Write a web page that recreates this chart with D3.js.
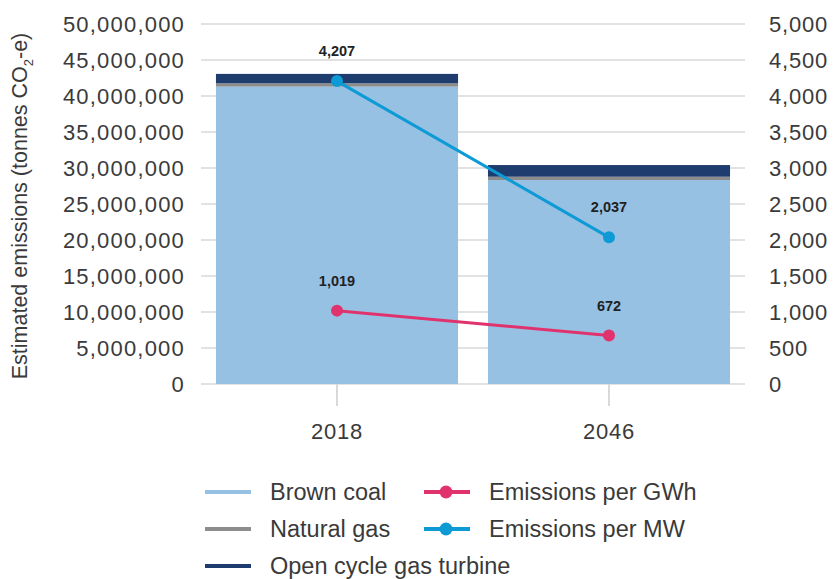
<!DOCTYPE html>
<html>
<head>
<meta charset="utf-8">
<script src="https://cdn.jsdelivr.net/npm/d3@7"></script>
<style>
  html, body { margin: 0; padding: 0; background: #fff; }
  svg text { font-family: "Liberation Sans", "DejaVu Sans", sans-serif; }
</style>
</head>
<body>
<svg id="chart" width="834" height="579"></svg>
<script>
// Categories and series
const years = ["2018", "2046"];
const brownCoal = [41300000, 28330000];
const naturalGas = [470000, 460000];
const ocgt = [1300000, 1620000];
const perGWh = [1019, 672];
const perMW = [4207, 2037];
const leftTicks = [0, 5000000, 10000000, 15000000, 20000000, 25000000, 30000000, 35000000, 40000000, 45000000, 50000000];
const rightTicks = [0, 500, 1000, 1500, 2000, 2500, 3000, 3500, 4000, 4500, 5000];

const colors = {
  coal: "#97c1e3",
  gas: "#8c8c8c",
  ocgt: "#1e3c6e",
  gwh: "#e0336e",
  mw: "#0d9ad5",
  grid: "#d9d9d9",
  text: "#3a3a3a"
};

const svg = d3.select("#chart");
const plot = { left: 201, right: 745, top: 24, bottom: 384 };

const x = d3.scaleBand().domain(years).range([plot.left, plot.right])
  .paddingInner(0.11).paddingOuter(0.055);
const yL = d3.scaleLinear().domain([0, 50000000]).range([plot.bottom, plot.top]);
const yR = d3.scaleLinear().domain([0, 5000]).range([plot.bottom, plot.top]);

// Gridlines
svg.append("g").selectAll("line").data(leftTicks).join("line")
  .attr("x1", plot.left).attr("x2", plot.right)
  .attr("y1", d => yL(d)).attr("y2", d => yL(d))
  .attr("stroke", colors.grid).attr("stroke-width", 1.5);

const fmt = d3.format(",");
const tickFont = 22;

// Left axis
const leftAxis = svg.append("g").attr("transform", `translate(${plot.left - 16},0)`)
  .call(d3.axisLeft(yL).tickValues(leftTicks).tickFormat(fmt).tickSize(0).tickPadding(0));
leftAxis.select(".domain").remove();
leftAxis.selectAll("text").attr("font-size", tickFont).attr("fill", colors.text)
  .attr("letter-spacing", 1.2).attr("dy", "0.35em");

// Right axis
const rightAxis = svg.append("g").attr("transform", `translate(${plot.right + 24},0)`)
  .call(d3.axisRight(yR).tickValues(rightTicks).tickFormat(fmt).tickSize(0).tickPadding(0));
rightAxis.select(".domain").remove();
rightAxis.selectAll("text").attr("font-size", tickFont).attr("fill", colors.text)
  .attr("letter-spacing", 0.8).attr("dy", "0.35em");

// Left axis title
const title = svg.append("text")
  .attr("transform", `translate(27,${(plot.top + plot.bottom) / 2 + 2}) rotate(-90)`)
  .attr("text-anchor", "middle").attr("font-size", 21.5).attr("fill", colors.text);
title.append("tspan").text("Estimated emissions (tonnes CO");
title.append("tspan").text("2").attr("font-size", 13).attr("dy", 6);
title.append("tspan").text("-e)").attr("dy", -6);

// Stacked bars
const rows = years.map((yr, i) => ({ year: yr, coal: brownCoal[i], gas: naturalGas[i], ocgt: ocgt[i] }));
const stack = d3.stack().keys(["coal", "gas", "ocgt"])(rows);
svg.append("g").selectAll("g").data(stack).join("g")
  .attr("fill", d => colors[d.key])
  .selectAll("rect").data(d => d).join("rect")
  .attr("x", d => x(d.data.year))
  .attr("width", x.bandwidth())
  .attr("y", d => yL(d[1]))
  .attr("height", d => yL(d[0]) - yL(d[1]));

// X axis ticks and labels
const xAxis = svg.append("g").attr("transform", `translate(0,${plot.bottom})`)
  .call(d3.axisBottom(x).tickSize(22).tickPadding(17));
xAxis.select(".domain").remove();
xAxis.selectAll(".tick line").attr("stroke", colors.grid).attr("stroke-width", 2);
xAxis.selectAll("text").attr("font-size", tickFont).attr("fill", colors.text)
  .attr("letter-spacing", 0.8);

// Lines with points and value labels
function series(values, color) {
  const cx = (d, i) => x(years[i]) + x.bandwidth() / 2;
  const line = d3.line().x((d, i) => cx(d, i)).y(d => yR(d));
  const g = svg.append("g");
  g.append("path").datum(values).attr("d", line)
    .attr("fill", "none").attr("stroke", color).attr("stroke-width", 3);
  g.selectAll("circle").data(values).join("circle")
    .attr("cx", cx).attr("cy", d => yR(d)).attr("r", 6).attr("fill", color);
  g.selectAll("text").data(values).join("text")
    .attr("x", cx).attr("y", d => yR(d) - 25)
    .attr("text-anchor", "middle").attr("font-size", 14.5).attr("font-weight", "bold")
    .attr("fill", "#222").text(d => fmt(d));
}
series(perGWh, colors.gwh);
series(perMW, colors.mw);

// Legend
const legendItems = [
  { label: "Brown coal", color: colors.coal, dot: false, x: 205, y: 492 },
  { label: "Natural gas", color: colors.gas, dot: false, x: 205, y: 529 },
  { label: "Open cycle gas turbine", color: colors.ocgt, dot: false, x: 205, y: 566 },
  { label: "Emissions per GWh", color: colors.gwh, dot: true, x: 424, y: 492 },
  { label: "Emissions per MW", color: colors.mw, dot: true, x: 424, y: 529 }
];
const lg = svg.append("g").selectAll("g").data(legendItems).join("g")
  .attr("transform", d => `translate(${d.x},${d.y})`);
lg.append("line").attr("x1", 0).attr("x2", 46).attr("y1", 0).attr("y2", 0)
  .attr("stroke", d => d.color).attr("stroke-width", 4);
lg.filter(d => d.dot).append("circle").attr("cx", 22).attr("cy", 0).attr("r", 6.5)
  .attr("fill", d => d.color);
lg.append("text").attr("x", 65).attr("y", 0).attr("dy", "0.36em")
  .attr("font-size", 23.5).attr("fill", colors.text).text(d => d.label);
</script>
</body>
</html>
